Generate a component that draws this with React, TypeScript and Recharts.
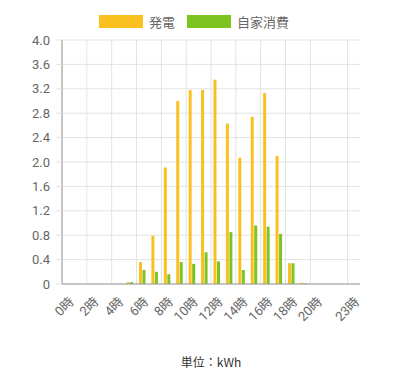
import React from 'react';
import { BarChart, Bar, XAxis, YAxis, CartesianGrid, Legend } from 'recharts';

const hours = ['0時','1時','2時','3時','4時','5時','6時','7時','8時','9時','10時','11時','12時','13時','14時','15時','16時','17時','18時','19時','20時','21時','22時','23時'];
const generation = [0,0,0,0,0,0.03,0.36,0.79,1.91,3.0,3.18,3.18,3.35,2.63,2.07,2.74,3.13,2.1,0.34,0.02,0,0,0,0];
const selfUse = [0,0,0,0,0,0.03,0.23,0.2,0.16,0.36,0.33,0.52,0.37,0.85,0.23,0.96,0.94,0.82,0.34,0.01,0,0,0,0];
const xTicks = ['0時','2時','4時','6時','8時','10時','12時','14時','16時','18時','20時','23時'];
const yTicks = [0,0.4,0.8,1.2,1.6,2.0,2.4,2.8,3.2,3.6,4.0];
const seriesNames = ['発電','自家消費'];
const seriesColors = ['#F9C01F','#7DC421'];
const unitLabel = '単位：kWh';

const data = hours.map((h, i) => ({ hour: h, gen: generation[i], self: selfUse[i] }));

const FONT = "Roboto, 'Noto Sans CJK JP', sans-serif";

const XTick = (props: any) => {
  const { x, y, payload } = props;
  return (
    <g transform={`translate(${x},${y + 4})`}>
      <text transform="rotate(-45)" textAnchor="end" dy="0.7em" fontSize={13} fill="#666" fontFamily={FONT}>
        {payload.value}
      </text>
    </g>
  );
};

const LegendContent = () => (
  <div style={{ display: 'flex', justifyContent: 'center', alignItems: 'center', height: 30, fontFamily: FONT, fontSize: 13, color: '#666' }}>
    {seriesNames.map((n, i) => (
      <div key={n} style={{ display: 'flex', alignItems: 'center', marginRight: i === 0 ? 12 : 0 }}>
        <span style={{ display: 'inline-block', width: 44, height: 13, background: seriesColors[i], marginRight: 6 }} />
        <span>{n}</span>
      </div>
    ))}
  </div>
);

export default function App() {
  return (
    <div style={{ position: 'absolute', top: 0, left: 0, width: 400, height: 375, background: '#fff' }}>
      <BarChart width={400} height={375} data={data} margin={{ top: 6, right: 40, left: 0, bottom: 0 }} barGap={0.5} barCategoryGap="20%">
        <Legend verticalAlign="top" height={34} content={<LegendContent />} wrapperStyle={{ left: 0, width: 388 }} />
        <CartesianGrid
          stroke="#e3e3e3"
          verticalCoordinatesGenerator={({ offset }: any) =>
            xTicks.map((t) => offset.left + (offset.width * hours.indexOf(t)) / hours.length)
          }
        />
        <XAxis
          dataKey="hour"
          ticks={xTicks}
          interval={0}
          tick={<XTick />}
          tickLine={false}
          axisLine={{ stroke: '#999' }}
          height={91}
          label={{ value: unitLabel, position: 'insideBottom', offset: 8, fontSize: 12, fill: '#333', fontFamily: "'Noto Sans CJK JP', sans-serif" }}
        />
        <YAxis
          width={62}
          domain={[0, 4]}
          ticks={yTicks}
          interval={0}
          tickFormatter={(v: number) => (v === 0 ? '0' : v.toFixed(1))}
          tick={{ fontSize: 13, fill: '#666', fontFamily: FONT }}
          tickLine={{ stroke: '#e3e3e3' }}
          tickSize={6}
          tickMargin={6}
          axisLine={{ stroke: '#999' }}
        />
        <Bar dataKey="gen" name={seriesNames[0]} fill={seriesColors[0]} isAnimationActive={false} />
        <Bar dataKey="self" name={seriesNames[1]} fill={seriesColors[1]} isAnimationActive={false} />
      </BarChart>
    </div>
  );
}
